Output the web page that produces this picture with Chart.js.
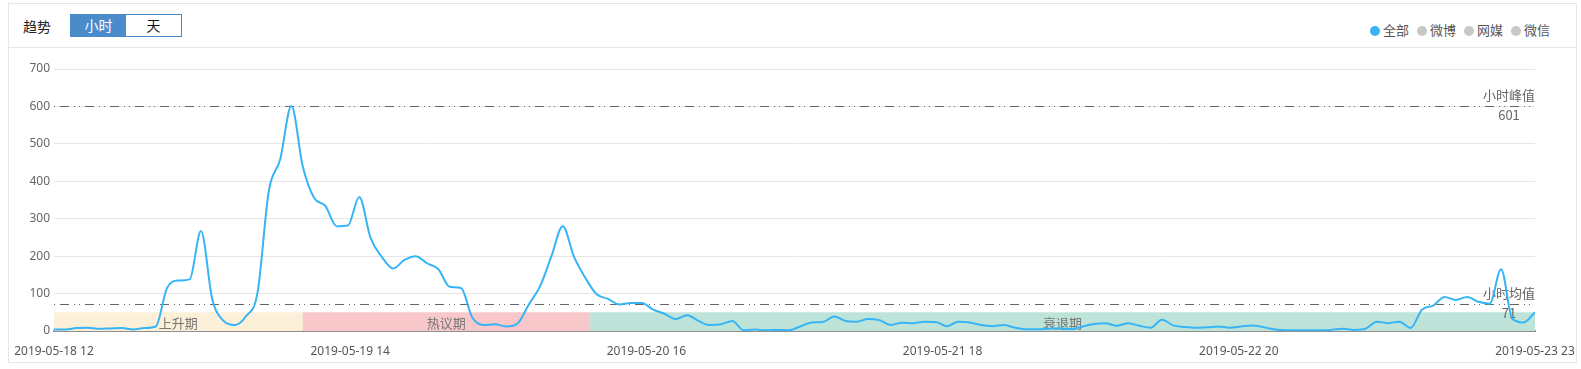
<!DOCTYPE html>
<html>
<head>
<meta charset="utf-8">
<script src="https://cdn.jsdelivr.net/npm/chart.js@4/dist/chart.umd.min.js"></script>
<style>
    body { margin: 0; background: #fff; font-family: "Noto Sans CJK SC", "Noto Sans", sans-serif; }
    .card { position: absolute; left: 8px; top: 3px; width: 1567px; height: 358px; border: 1px solid #e6e6e6; }
    .card-head { position: absolute; left: 0; top: 0; width: 100%; height: 43px; border-bottom: 1px solid #e6e6e6; }
    .title { position: absolute; left: 14px; top: 12px; font-size: 14px; color: #222; line-height: 20px; }
    .btns { position: absolute; left: 61px; top: 10px; height: 21px; border: 1px solid #4a8ccb; }
    .btns span { float: left; width: 55px; height: 21px; line-height: 21px; text-align: center; font-size: 14px; }
    .btns .on { background: #4a8ccb; color: #fff; }
    .btns .off { background: #fff; color: #111; }
    .legend { position: absolute; right: 26px; top: 16px; font-size: 13px; color: #555; line-height: 20px; }
    .legend i { display: inline-block; width: 10px; height: 10px; border-radius: 50%; margin: 0 3px 0 8px; vertical-align: -1px; }
    #trendChart { position: absolute; left: 0; top: 48px; }
</style>
</head>
<body>
<div class="card">
    <div class="card-head">
        <div class="title">趋势</div>
        <div class="btns"><span class="on">小时</span><span class="off">天</span></div>
        <div class="legend" id="legendBox"></div>
    </div>
</div>
<canvas id="trendChart" width="1581" height="321"></canvas>
<script>
// hourly counts, 2019-05-18 12 .. 2019-05-23 23
var hourValues = [4, 4, 8, 9, 6, 7, 8, 4, 8, 12,
    115, 135, 138, 267, 85, 27, 16, 40, 102, 374,
    458, 601, 440, 356, 334, 280, 282, 358, 249, 198,
    167, 190, 200, 181, 165, 118, 115, 36, 16, 18,
    12, 20, 71, 120, 200, 280, 198, 142, 98, 86,
    71, 75, 75, 57, 46, 32, 42, 27, 16, 18,
    27, 2, 4, 2, 3, 2, 12, 23, 24, 39,
    27, 25, 32, 29, 16, 22, 21, 25, 24, 13,
    25, 23, 16, 13, 16, 9, 5, 5, 6, 7,
    5, 12, 19, 21, 14, 21, 14, 9, 30, 15,
    11, 9, 10, 12, 9, 12, 15, 10, 4, 2,
    2, 2, 2, 3, 6, 3, 6, 25, 21, 25,
    8, 57, 68, 91, 83, 91, 78, 73, 165, 32,
    23, 50];
// axis shows 6 evenly spaced labels
var tickLabels = ['2019-05-18 12', '2019-05-19 14', '2019-05-20 16', '2019-05-21 18', '2019-05-22 20', '2019-05-23 23'];
var yTicks = [0, 100, 200, 300, 400, 500, 600, 700];
var phaseNames = ['上升期', '热议期', '衰退期'];
var phaseStart = [0, 22, 47.4];
var phaseEnd = [22, 47.4, 131];
var phaseColors = ['#fcf0d9', '#f7c7ca', '#bee4d9'];
var phaseHeight = 50;
var peakValue = 601;
var avgValue = 71;
var legendNames = ['全部', '微博', '网媒', '微信'];
var legendColors = ['#36b4f6', '#c8c8c8', '#c8c8c8', '#c8c8c8'];

var points = hourValues.map(function (v, i) { return { x: i, y: v }; });

var legendHtml = '';
legendNames.forEach(function (n, i) {
    legendHtml += '<i style="background:' + legendColors[i] + '"></i>' + n;
});
document.getElementById('legendBox').innerHTML = legendHtml;

var bandsPlugin = {
    id: 'bands',
    beforeDatasetsDraw: function (chart) {
        var ctx = chart.ctx;
        var x = chart.scales.x;
        var y = chart.scales.y;
        ctx.save();
        phaseNames.forEach(function (name, i) {
            var x0 = x.getPixelForValue(phaseStart[i]);
            var x1 = x.getPixelForValue(phaseEnd[i]);
            var yTop = y.getPixelForValue(phaseHeight);
            var yBot = y.getPixelForValue(0);
            ctx.fillStyle = phaseColors[i];
            ctx.fillRect(x0, yTop, x1 - x0, yBot - yTop);
            ctx.fillStyle = '#777';
            ctx.font = '13px "Noto Sans CJK SC", sans-serif';
            ctx.textAlign = 'center';
            ctx.textBaseline = 'middle';
            ctx.fillText(name, (x0 + x1) / 2, y.getPixelForValue(phaseHeight / 2) + 1);
        });

        // peak / average mark lines
        [[peakValue, '小时峰值'], [avgValue, '小时均值']].forEach(function (m) {
            var py = Math.round(y.getPixelForValue(m[0])) + 0.5;
            ctx.strokeStyle = '#666';
            ctx.lineWidth = 1;
            ctx.setLineDash([1, 5, 9, 5, 1, 4]);
            ctx.beginPath();
            ctx.moveTo(chart.chartArea.left, py);
            ctx.lineTo(chart.chartArea.right, py);
            ctx.stroke();
            ctx.setLineDash([]);
            ctx.fillStyle = '#666';
            ctx.font = '13px "Noto Sans CJK SC", sans-serif';
            ctx.textAlign = 'center';
            ctx.textBaseline = 'middle';
            var lx = chart.chartArea.right - 26;
            ctx.fillText(m[1], lx, py - 11);
            ctx.fillText(String(m[0]), lx, py + 9);
        });
        ctx.restore();
    }
};

var trendChart = new Chart(document.getElementById('trendChart').getContext('2d'), {
    type: 'line',
    data: {
        datasets: [{
            label: '全部',
            data: points,
            borderColor: '#36b4f6',
            borderWidth: 2,
            pointRadius: 0,
            fill: false,
            cubicInterpolationMode: 'monotone'
        }]
    },
    options: {
        responsive: false,
        animation: false,
        layout: { padding: { left: 0, right: 46, top: 21, bottom: 0 } },
        plugins: {
            legend: { display: false },
            tooltip: { enabled: false }
        },
        scales: {
            x: {
                type: 'linear',
                min: 0,
                max: hourValues.length - 1,
                grid: { display: false, drawTicks: false },
                border: { display: true, color: '#8f8f8f', width: 2 },
                afterBuildTicks: function (scale) {
                    var n = tickLabels.length - 1;
                    scale.ticks = tickLabels.map(function (l, k) {
                        return { value: scale.min + (scale.max - scale.min) * k / n };
                    });
                },
                ticks: {
                    autoSkip: false,
                    maxRotation: 0,
                    padding: 13,
                    color: '#555',
                    font: { size: 12, family: '"Noto Sans", "Noto Sans CJK SC", sans-serif' },
                    callback: function (v, i) { return tickLabels[i]; }
                },
                afterFit: function (scale) {
                    scale.height = 38;
                    scale.paddingLeft = 0;
                    scale.paddingRight = 0;
                }
            },
            y: {
                min: 0,
                max: 700,
                grid: { color: '#e6e6e6', drawTicks: false },
                border: { display: false },
                afterBuildTicks: function (scale) {
                    scale.ticks = yTicks.map(function (v) { return { value: v }; });
                },
                ticks: {
                    padding: 4,
                    color: '#666',
                    font: { size: 12, family: '"Noto Sans", "Noto Sans CJK SC", sans-serif' }
                },
                afterFit: function (scale) {
                    scale.width = 54;
                    scale.paddingTop = 0;
                    scale.paddingBottom = 0;
                }
            }
        }
    },
    plugins: [bandsPlugin]
});
</script>
</body>
</html>
